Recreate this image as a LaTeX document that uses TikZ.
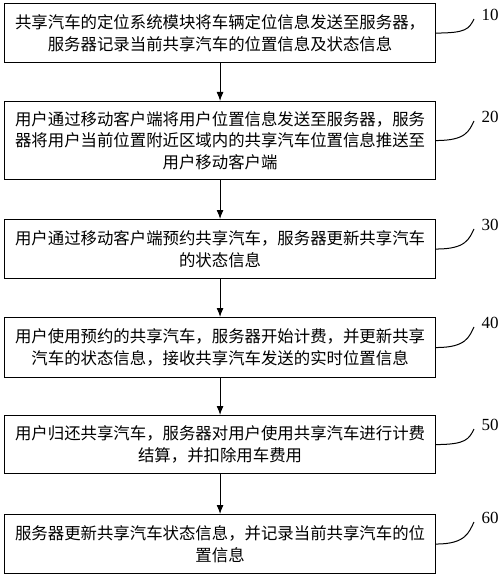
\documentclass[tikz,border=0pt]{standalone}
\usepackage{fontspec}
\setmainfont{Liberation Serif}
\newfontfamily\cjk{Noto Sans CJK SC}
\usetikzlibrary{arrows.meta,calc}
\begin{document}
\begin{tikzpicture}[x=1pt,y=-1pt,
  stepbox/.style={draw, line width=1.1pt, minimum width=431pt, inner sep=0pt,
    anchor=north west, font=\cjk\fontsize{16.4}{21.5}\selectfont, align=center},
  arr/.style={line width=1pt, -{Latex[length=9pt,width=7pt]}},
  lead/.style={line width=1pt},
  num/.style={font=\fontsize{17}{17}\selectfont, inner sep=0pt}]
\useasboundingbox (0,0) rectangle (500,575);
\node[stepbox, minimum height=59pt] (b1) at (4,3) {共享汽车的定位系统模块将车辆定位信息发送至服务器，\\服务器记录当前共享汽车的位置信息及状态信息};
\node[stepbox, minimum height=78pt] (b2) at (4,101) {用户通过移动客户端将用户位置信息发送至服务器，服务\\器将用户当前位置附近区域内的共享汽车位置信息推送至\\用户移动客户端};
\node[stepbox, minimum height=59pt] (b3) at (4,219) {用户通过移动客户端预约共享汽车，服务器更新共享汽车\\的状态信息};
\node[stepbox, minimum height=60pt] (b4) at (4,317) {用户使用预约的共享汽车，服务器开始计费，并更新共享\\汽车的状态信息，接收共享汽车发送的实时位置信息};
\node[stepbox, minimum height=58pt] (b5) at (4,415) {用户归还共享汽车，服务器对用户使用共享汽车进行计费\\结算，并扣除用车费用};
\node[stepbox, minimum height=59pt] (b6) at (4,514) {服务器更新共享汽车状态信息，并记录当前共享汽车的位\\置信息};
\draw[arr] (b1) -- (b2);
\draw[arr] (b2) -- (b3);
\draw[arr] (b3) -- (b4);
\draw[arr] (b4) -- (b5);
\draw[arr] (b5) -- (b6);
\node[num] (l1) at (490,15) {10};
\node[num] (l2) at (490,117) {20};
\node[num] (l3) at (490,225) {30};
\node[num] (l4) at (490,323) {40};
\node[num] (l5) at (490,425) {50};
\node[num] (l6) at (490,518) {60};
\foreach \i in {1,...,6}{
  \coordinate (e\i) at ($(l\i)+(-16,4)$);
  \draw[lead] (b\i.east) .. controls +(30,0) and +(-5,10) .. (e\i);
}
\end{tikzpicture}
\end{document}
